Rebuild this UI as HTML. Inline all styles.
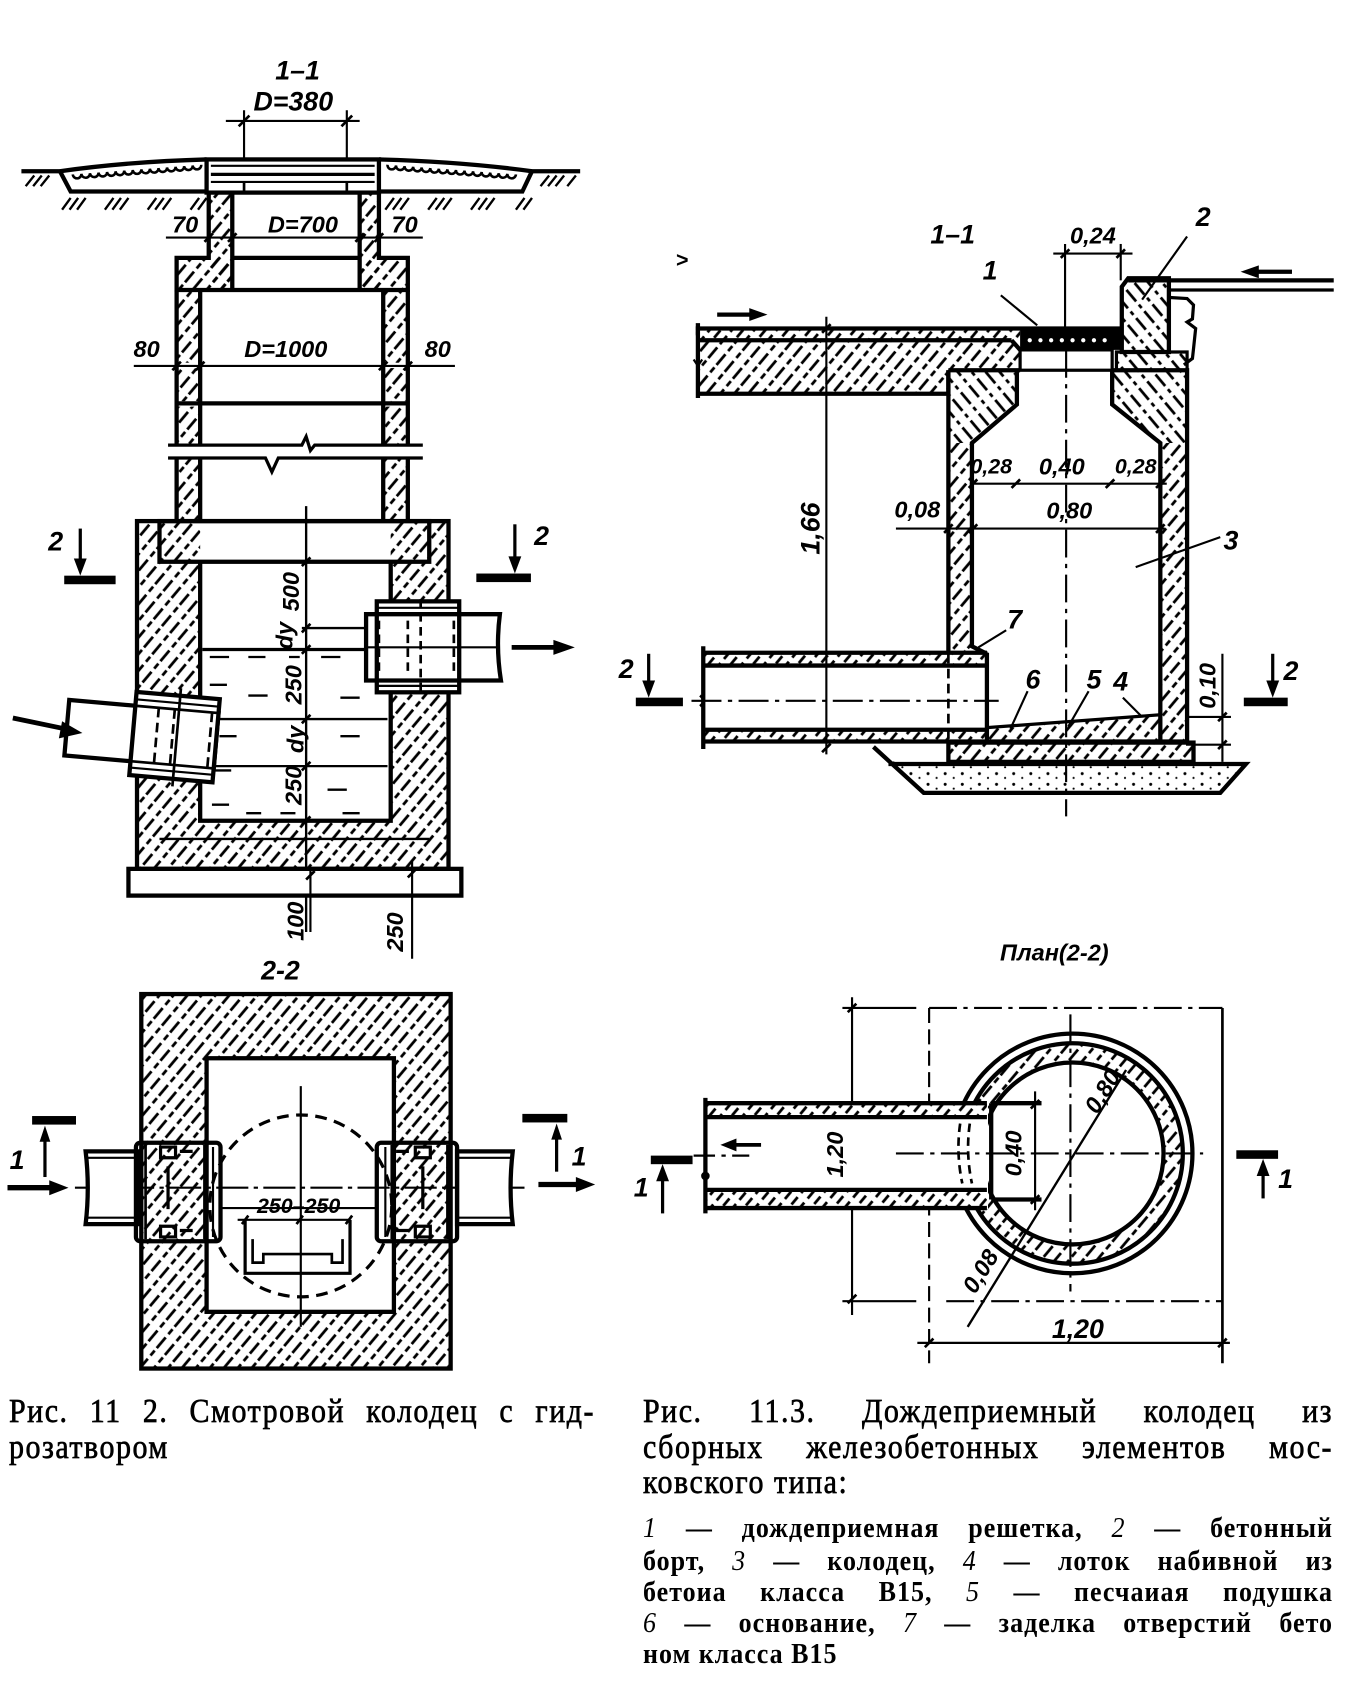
<!DOCTYPE html>
<html><head><meta charset="utf-8">
<style>
html,body{margin:0;padding:0;background:#fff;}
#w{position:relative;width:1353px;height:1681px;overflow:hidden;background:#fff;}
#w svg{position:absolute;left:0;top:0;}
.cap{position:absolute;font-family:"Liberation Serif","DejaVu Serif",serif;color:#000;white-space:nowrap;font-size:30px;line-height:30px;letter-spacing:1.5px;-webkit-text-stroke:0.6px #000;transform:scaleY(1.12);transform-origin:0 0;}
.leg{position:absolute;font-family:"Liberation Serif","DejaVu Serif",serif;color:#000;white-space:nowrap;font-size:26px;line-height:26px;letter-spacing:1px;font-weight:bold;transform:scaleY(1.1);transform-origin:0 0;}
.j{text-align:justify;text-align-last:justify;white-space:normal;}
.leg i{font-weight:normal;}
</style></head><body><div id="w">
<svg width="1353" height="1681" viewBox="0 0 1264 1571" preserveAspectRatio="none" xmlns="http://www.w3.org/2000/svg">
<defs>
<pattern id="h" width="10" height="26" patternUnits="userSpaceOnUse" patternTransform="rotate(40)">
<line x1="2" y1="0" x2="2" y2="26" stroke="#000" stroke-width="2.6" stroke-dasharray="13 3 6 4"/>
</pattern>
<pattern id="hb" width="10" height="26" patternUnits="userSpaceOnUse" patternTransform="rotate(-40)">
<line x1="2" y1="0" x2="2" y2="26" stroke="#000" stroke-width="2.6" stroke-dasharray="14 4 4 4"/>
</pattern>
<pattern id="hf" width="8" height="14" patternUnits="userSpaceOnUse" patternTransform="rotate(40)">
<line x1="2" y1="0" x2="2" y2="14" stroke="#000" stroke-width="2.6" stroke-dasharray="9 5"/>
</pattern>
<pattern id="dots" width="16" height="10" patternUnits="userSpaceOnUse">
<circle cx="3" cy="3" r="1.4" fill="#000"/><circle cx="11" cy="7" r="1" fill="#000"/>
</pattern>
<style>
.t{font-family:"Liberation Sans","DejaVu Sans",sans-serif;font-weight:bold;font-style:italic;font-size:22px;fill:#000;}
.tl{font-size:25px;}
.ts{font-size:20px;}
</style>
</defs>

<!-- ================= LEFT FIGURE 11.2 (section 1-1) ================= -->
<g class="t" text-anchor="middle" dominant-baseline="central">
<text x="278" y="66" class="t tl">1–1</text>
<text x="274" y="95" class="t tl">D=380</text>
<text x="173" y="210">70</text>
<text x="283" y="210">D=700</text>
<text x="378" y="210">70</text>
<text x="137" y="326">80</text>
<text x="267" y="326">D=1000</text>
<text x="409" y="326">80</text>
<text x="52" y="506" class="t tl">2</text>
<text x="506" y="501" class="t tl">2</text>
<text x="262" y="907" class="t tl">2-2</text>
<text transform="translate(272,553) rotate(-90)">500</text>
<text transform="translate(266,594) rotate(-90)">dу</text>
<text transform="translate(274,640) rotate(-90)">250</text>
<text transform="translate(276,691) rotate(-90)">dу</text>
<text transform="translate(274,734) rotate(-90)">250</text>
<text transform="translate(276,861) rotate(-90)">100</text>
<text transform="translate(369,871) rotate(-90)">250</text>
</g>

<g fill="none" stroke="#000" stroke-width="4">
<line x1="211" y1="113" x2="336" y2="113" stroke-width="2"/>
<line x1="228" y1="103" x2="228" y2="180" stroke-width="2"/>
<line x1="324" y1="103" x2="324" y2="180" stroke-width="2"/>
<line x1="223" y1="118" x2="233" y2="108" stroke-width="2.5"/>
<line x1="319" y1="118" x2="329" y2="108" stroke-width="2.5"/>
<line x1="20" y1="160" x2="58" y2="160"/>
<line x1="495" y1="160" x2="542" y2="160"/>
<path d="M56,160 Q120,151 193,149"/>
<path d="M354,149 Q430,151 497,160"/>
<path d="M56,160 L66,179 H193"/>
<path d="M354,179 H488 L497,160"/>
<path stroke-width="2.4" d="M68,163 a4,4 0 0 0 8,-0.6 a4,4 0 0 0 8,-0.6 a4,4 0 0 0 8,-0.6 a4,4 0 0 0 8,-0.6 a4,4 0 0 0 8,-0.6 a4,4 0 0 0 8,-0.6 a4,4 0 0 0 8,-0.6 a4,4 0 0 0 8,-0.6 a4,4 0 0 0 8,-0.6 a4,4 0 0 0 8,-0.6 a4,4 0 0 0 8,-0.6 a4,4 0 0 0 8,-0.6 a4,4 0 0 0 8,-0.6 a4,4 0 0 0 8,-0.6 a4,4 0 0 0 8,-0.6"/>
<path stroke-width="2.4" d="M362,154 a4,4 0 0 0 8,0.6 a4,4 0 0 0 8,0.6 a4,4 0 0 0 8,0.6 a4,4 0 0 0 8,0.6 a4,4 0 0 0 8,0.6 a4,4 0 0 0 8,0.6 a4,4 0 0 0 8,0.6 a4,4 0 0 0 8,0.6 a4,4 0 0 0 8,0.6 a4,4 0 0 0 8,0.6 a4,4 0 0 0 8,0.6 a4,4 0 0 0 8,0.6 a4,4 0 0 0 8,0.6 a4,4 0 0 0 8,0.6 a4,4 0 0 0 8,0.6"/>
<g stroke-width="2.2">
<path d="M24,174 l8,-10 M31,174 l8,-10 M38,174 l8,-10"/>
<path d="M58,196 l8,-11 M65,196 l8,-11 M72,196 l8,-11"/>
<path d="M98,196 l8,-11 M105,196 l8,-11 M112,196 l8,-11"/>
<path d="M138,196 l8,-11 M145,196 l8,-11 M152,196 l8,-11"/>
<path d="M178,196 l8,-11 M185,196 l8,-11"/>
<path d="M360,196 l8,-11 M367,196 l8,-11 M374,196 l8,-11"/>
<path d="M400,196 l8,-11 M407,196 l8,-11 M414,196 l8,-11"/>
<path d="M440,196 l8,-11 M447,196 l8,-11 M454,196 l8,-11"/>
<path d="M482,196 l8,-11 M489,196 l8,-11"/>
<path d="M505,174 l8,-10 M512,174 l8,-10 M519,174 l8,-10 M530,174 l8,-10"/>
</g>
</g>

<rect x="193" y="149" width="161" height="31" fill="#fff" stroke="#000" stroke-width="4"/>
<g stroke="#000" fill="none">
<line x1="197" y1="155" x2="350" y2="155" stroke-width="2"/>
<line x1="197" y1="163" x2="350" y2="163" stroke-width="3"/>
<line x1="197" y1="170" x2="350" y2="170" stroke-width="2"/>
<line x1="228" y1="170" x2="228" y2="180" stroke-width="2.5"/>
<line x1="324" y1="170" x2="324" y2="180" stroke-width="2.5"/>
</g>

<rect x="195" y="180" width="22" height="91" fill="url(#h)"/>
<rect x="336" y="180" width="18" height="91" fill="url(#h)"/>
<rect x="165" y="241" width="52" height="30" fill="url(#h)"/>
<rect x="336" y="241" width="45" height="30" fill="url(#h)"/>
<g fill="none" stroke="#000" stroke-width="4">
<path d="M195,180 V241 H165 V271 H381 V241 H354 V180"/>
<line x1="217" y1="180" x2="217" y2="271"/>
<line x1="336" y1="180" x2="336" y2="271"/>
<line x1="217" y1="241" x2="336" y2="241"/>
<line x1="155" y1="222" x2="395" y2="222" stroke-width="2"/>
<path d="M191,226 l8,-8 M213,226 l8,-8 M332,226 l8,-8 M350,226 l8,-8" stroke-width="2.5"/>
</g>

<rect x="165" y="271" width="22" height="216" fill="url(#h)"/>
<rect x="358" y="271" width="23" height="216" fill="url(#h)"/>
<rect x="160" y="339" width="228" height="5" fill="#fff"/>
<rect x="160" y="375" width="228" height="5" fill="#fff"/>
<rect x="150" y="417" width="250" height="10" fill="#fff"/>
<g fill="none" stroke="#000" stroke-width="4">
<line x1="165" y1="271" x2="165" y2="417"/>
<line x1="187" y1="271" x2="187" y2="417"/>
<line x1="358" y1="271" x2="358" y2="417"/>
<line x1="381" y1="271" x2="381" y2="417"/>
<line x1="165" y1="427" x2="165" y2="487"/>
<line x1="187" y1="427" x2="187" y2="487"/>
<line x1="358" y1="427" x2="358" y2="487"/>
<line x1="381" y1="427" x2="381" y2="487"/>
<line x1="125" y1="342" x2="425" y2="342" stroke-width="2"/>
<line x1="165" y1="377" x2="381" y2="377"/>
<path d="M161,346 l8,-8 M183,346 l8,-8 M354,346 l8,-8 M377,346 l8,-8" stroke-width="2.5"/>
<path d="M157,416 H282 L286,408 L290,421 L294,416 H395" stroke-width="3"/>
<path d="M157,428 H248 L254,441 L260,428 H395" stroke-width="3"/>
</g>

<path d="M128,487 H419 V812 H128 Z M187,487 V767 H365 V487 Z" fill="url(#h)" fill-rule="evenodd"/>
<g fill="none" stroke="#000" stroke-width="4">
<rect x="128" y="487" width="291" height="325"/>
<rect x="149" y="487" width="252" height="38"/>
<path d="M187,525 V767 H365 V525"/>
<line x1="149" y1="784" x2="401" y2="784" stroke-width="2.2"/>
</g>
<g stroke="#000" stroke-width="2.2" fill="none">
<line x1="189" y1="607" x2="342" y2="607" stroke-width="3"/>
<path d="M196,614 h18 M232,614 h16 M270,614 h10 M300,614 h18 M196,640 h16 M232,650 h18 M318,652 h18 M205,688 h16 M318,688 h18 M200,720 h16 M306,738 h18 M198,752 h16 M230,760 h14 M262,760 h14 M320,760 h16"/>
<line x1="282" y1="587" x2="342" y2="587"/>
<line x1="189" y1="672" x2="362" y2="672"/>
<line x1="189" y1="716" x2="362" y2="716"/>
<line x1="286" y1="473" x2="286" y2="871"/>
<path d="M282,529 l8,-8 M282,591 l8,-8 M282,611 l8,-8 M282,676 l8,-8 M282,720 l8,-8 M282,771 l8,-8" stroke-width="2.5"/>
</g>
<rect x="120" y="812" width="311" height="25" fill="#fff" stroke="#000" stroke-width="4"/>
<g stroke="#000" stroke-width="2" fill="none">
<line x1="290" y1="812" x2="290" y2="871"/>
<line x1="385" y1="805" x2="385" y2="896"/>
<path d="M286,822 l8,-8 M381,820 l8,-8" stroke-width="2.5"/>
</g>

<g transform="rotate(5 130 688)">
<rect x="62" y="660" width="140" height="52" fill="#fff" stroke="#000" stroke-width="4"/>
<rect x="124" y="647" width="78" height="78" fill="#fff" stroke="#000" stroke-width="4"/>
<g stroke="#000" fill="none">
<line x1="124" y1="654" x2="202" y2="654" stroke-width="2"/>
<line x1="124" y1="718" x2="202" y2="718" stroke-width="2"/>
<line x1="124" y1="660" x2="202" y2="660" stroke-width="2.5"/>
<line x1="124" y1="712" x2="202" y2="712" stroke-width="2.5"/>
<line x1="146" y1="660" x2="146" y2="712" stroke-width="2.5" stroke-dasharray="9 5"/>
<line x1="161" y1="660" x2="161" y2="712" stroke-width="2.5" stroke-dasharray="9 5"/>
<line x1="196" y1="660" x2="196" y2="712" stroke-width="2.5" stroke-dasharray="9 5"/>
<line x1="165" y1="640" x2="165" y2="732" stroke-width="2.5"/>
</g>
</g>
<rect x="342" y="574" width="125" height="62" fill="#fff"/>
<rect x="352" y="562" width="77" height="85" fill="#fff" stroke="#000" stroke-width="4"/>
<g stroke="#000" fill="none">
<path d="M342,574 H467 Q463,605 468,636 H342 Z" stroke-width="4"/>
<line x1="352" y1="568" x2="429" y2="568" stroke-width="2"/>
<line x1="352" y1="641" x2="429" y2="641" stroke-width="2"/>
<line x1="354" y1="580" x2="354" y2="632" stroke-width="2.5" stroke-dasharray="8 5"/>
<line x1="381" y1="580" x2="381" y2="632" stroke-width="2.5" stroke-dasharray="8 5"/>
<line x1="393" y1="560" x2="393" y2="650" stroke-width="2.5" stroke-dasharray="8 5"/>
<line x1="424" y1="580" x2="424" y2="632" stroke-width="2.5" stroke-dasharray="8 5"/>
<line x1="342" y1="605" x2="467" y2="605" stroke-width="2"/>
</g>
<g stroke="#000" stroke-width="4.5" fill="#000">
<line x1="12" y1="671" x2="60" y2="681"/>
<polygon points="77,685 58,674 55,690" stroke="none"/>
<line x1="478" y1="605" x2="520" y2="605"/>
<polygon points="537,605 517,598 517,612" stroke="none"/>
<line x1="75" y1="494" x2="75" y2="526" stroke-width="3"/>
<polygon points="75,538 69,522 81,522" stroke="none"/>
<rect x="60" y="538" width="48" height="8" stroke="none"/>
<line x1="481" y1="490" x2="481" y2="524" stroke-width="3"/>
<polygon points="481,536 475,520 487,520" stroke="none"/>
<rect x="445" y="536" width="51" height="8" stroke="none"/>
</g>

<!-- ================= SECTION 2-2 ================= -->
<path d="M132,929 H421 V1279 H132 Z M193,989 V1226 H368 V989 Z" fill="url(#h)" fill-rule="evenodd"/>
<g fill="none" stroke="#000" stroke-width="4">
<rect x="132" y="929" width="289" height="350"/>
<rect x="193" y="989" width="175" height="237"/>
</g>
<circle cx="281" cy="1127" r="85" fill="none" stroke="#000" stroke-width="3" stroke-dasharray="11 7"/>
<g stroke="#000" fill="none" stroke-width="2">
<line x1="281" y1="1015" x2="281" y2="1240"/>
<line x1="70" y1="1110" x2="490" y2="1110" stroke-dasharray="30 5 4 5"/>
<line x1="206" y1="1129" x2="352" y2="1129"/>
</g>
<path d="M80,1076 H129 V1144 H80 Q84,1110 80,1076 Z" fill="#fff" stroke="#000" stroke-width="4"/>
<path d="M427,1076 H479 Q475,1110 479,1144 H427 Z" fill="#fff" stroke="#000" stroke-width="4"/>
<g stroke="#000" fill="none">
<line x1="80" y1="1082" x2="129" y2="1082" stroke-width="2"/>
<line x1="80" y1="1138" x2="129" y2="1138" stroke-width="2"/>
<line x1="427" y1="1082" x2="479" y2="1082" stroke-width="2"/>
<line x1="427" y1="1138" x2="479" y2="1138" stroke-width="2"/>
<rect x="127" y="1068" width="79" height="92" rx="4" stroke-width="4"/>
<line x1="136" y1="1070" x2="136" y2="1158" stroke-width="2.5"/>
<line x1="191" y1="1070" x2="191" y2="1158" stroke-width="2.5"/>
<line x1="199" y1="1072" x2="199" y2="1156" stroke-width="2"/>
<rect x="352" y="1068" width="75" height="92" rx="4" stroke-width="4"/>
<line x1="360" y1="1072" x2="360" y2="1156" stroke-width="2"/>
<line x1="366" y1="1070" x2="366" y2="1158" stroke-width="2.5"/>
<line x1="418" y1="1070" x2="418" y2="1158" stroke-width="2.5"/>
<path d="M150,1072 h14 v10 h-14 z M150,1146 h14 v10 h-14 z M168,1076 h12 M168,1150 h12 M157,1090 v40" stroke-width="3"/>
<path d="M388,1072 h14 v10 h-14 z M388,1146 h14 v10 h-14 z M370,1076 h12 M370,1150 h12 M395,1090 v40" stroke-width="3"/>
<line x1="222" y1="1140" x2="327" y2="1140" stroke-width="2"/>
<path d="M226,1144 l6,-8 M277,1144 l6,-8 M323,1144 l6,-8" stroke-width="2.5"/>
<path d="M229,1140 V1190 H327 V1140" stroke-width="3"/>
<path d="M236,1158 V1180 H246 V1172 H310 V1180 H320 V1158" stroke-width="2.5"/>
</g>
<text x="279" y="1127" class="t ts" text-anchor="middle" dominant-baseline="central">250–250</text>
<g stroke="#000" stroke-width="5" fill="#000">
<line x1="7" y1="1110" x2="48" y2="1110"/>
<polygon points="64,1110 46,1103 46,1117" stroke="none"/>
<line x1="503" y1="1107" x2="540" y2="1107"/>
<polygon points="556,1107 538,1100 538,1114" stroke="none"/>
<line x1="42" y1="1100" x2="42" y2="1062" stroke-width="3"/>
<polygon points="42,1052 37,1067 47,1067" stroke="none"/>
<rect x="30" y="1043" width="41" height="8" stroke="none"/>
<line x1="520" y1="1095" x2="520" y2="1060" stroke-width="3"/>
<polygon points="520,1050 515,1065 525,1065" stroke="none"/>
<rect x="488" y="1041" width="42" height="8" stroke="none"/>
</g>
<text x="16" y="1084" class="t tl" text-anchor="middle" dominant-baseline="central">1</text>
<text x="541" y="1081" class="t tl" text-anchor="middle" dominant-baseline="central">1</text>

<!-- ================= RIGHT FIGURE 11.3 ================= -->
<text x="637" y="243" class="t ts" text-anchor="middle" dominant-baseline="central">&gt;</text>
<path d="M650,307 H953 V318 H650 Z" fill="url(#hf)"/>
<path d="M653,318 H945 L953,327 V346 H886 V368 H653 Z" fill="url(#h)"/>
<g fill="none" stroke="#000" stroke-width="4">
<line x1="650" y1="307" x2="1048" y2="307"/>
<line x1="653" y1="318" x2="945" y2="318"/>
<path d="M945,318 L953,327"/>
<path d="M886,346 V368 H653"/>
<line x1="652" y1="302" x2="652" y2="372"/>
<path d="M648,336 l4,6 l4,-6" stroke-width="2"/>
</g>
<rect x="953" y="307" width="94" height="20" fill="#000"/>
<g fill="#fff">
<circle cx="962" cy="318" r="2"/><circle cx="972" cy="318" r="2"/><circle cx="982" cy="318" r="2"/><circle cx="992" cy="318" r="2"/><circle cx="1002" cy="318" r="2"/><circle cx="1012" cy="318" r="2"/><circle cx="1022" cy="318" r="2"/><circle cx="1032" cy="318" r="2"/>
</g>
<rect x="953" y="327" width="86" height="19" fill="#fff" stroke="#000" stroke-width="3"/>
<path d="M1048,268 L1054,260 H1092 V329 H1048 Z" fill="url(#hb)" stroke="#000" stroke-width="4"/>
<path d="M1043,329 H1109 V346 H1043 Z" fill="url(#hb)" stroke="#000" stroke-width="3"/>
<g fill="none" stroke="#000" stroke-width="4">
<line x1="1054" y1="262" x2="1246" y2="262"/>
<line x1="1093" y1="271" x2="1246" y2="271" stroke-width="3"/>
<path d="M1093,278 L1109,279 L1115,285 L1114,298 L1109,301 L1117,307 L1115,326 L1114,335 L1106,341" stroke-width="3"/>
</g>
<path d="M886,346 H950 V378 L908,414 H886 Z" fill="url(#hb)"/>
<path d="M886,414 H908 V604 L920,611 H886 Z" fill="url(#h)"/>
<path d="M1039,346 H1109 V414 H1084 L1039,378 Z" fill="url(#hb)"/>
<path d="M1084,414 H1108 V693 H1084 Z" fill="url(#h)"/>
<g fill="none" stroke="#000" stroke-width="4">
<path d="M886,346 V611"/>
<path d="M886,346 H953"/>
<path d="M950,346 V378 L908,414 V604 L922,611"/>
<path d="M1039,346 H1109 V693"/>
<path d="M1039,346 V378 L1084,414 V693"/>
</g>
<g fill="none" stroke="#000" stroke-width="2">
<line x1="984" y1="237" x2="1058" y2="237"/>
<line x1="995" y1="228" x2="995" y2="307"/>
<line x1="1047" y1="228" x2="1047" y2="262"/>
<path d="M991,241 l8,-8 M1043,241 l8,-8" stroke-width="2.5"/>
<line x1="906" y1="452" x2="1090" y2="452"/>
<path d="M905,456 l8,-8 M945,456 l8,-8 M1033,456 l8,-8 M1080,456 l8,-8" stroke-width="2.5"/>
<line x1="837" y1="494" x2="1088" y2="494"/>
<path d="M882,498 l8,-8 M905,498 l8,-8 M1080,498 l8,-8" stroke-width="2.5"/>
<line x1="772" y1="296" x2="772" y2="705"/>
<path d="M768,311 l8,-8 M768,703 l8,-8" stroke-width="2.5"/>
<line x1="996" y1="327" x2="996" y2="763" stroke-dasharray="26 6 4 6"/>
<line x1="1109" y1="221" x2="1067" y2="280"/>
<line x1="935" y1="276" x2="969" y2="304"/>
<line x1="1140" y1="502" x2="1061" y2="530"/>
<line x1="940" y1="589" x2="914" y2="605"/>
<line x1="960" y1="646" x2="944" y2="681"/>
<line x1="1017" y1="646" x2="998" y2="679"/>
<line x1="1049" y1="652" x2="1066" y2="669"/>
<line x1="1142" y1="611" x2="1142" y2="712"/>
<line x1="1108" y1="670" x2="1150" y2="670"/>
<line x1="1108" y1="696" x2="1150" y2="696"/>
<path d="M1138,674 l8,-8 M1138,700 l8,-8" stroke-width="2.5"/>
</g>
<rect x="657" y="611" width="265" height="11" fill="url(#hf)"/>
<rect x="657" y="682" width="265" height="11" fill="url(#hf)"/>
<g fill="none" stroke="#000" stroke-width="4">
<line x1="657" y1="610" x2="922" y2="610"/>
<line x1="657" y1="622" x2="922" y2="622"/>
<line x1="657" y1="682" x2="922" y2="682"/>
<line x1="657" y1="693" x2="1109" y2="693"/>
<line x1="657" y1="604" x2="657" y2="700"/>
<line x1="922" y1="610" x2="922" y2="693"/>
<line x1="646" y1="655" x2="933" y2="655" stroke-width="2" stroke-dasharray="28 6 4 6"/>
<line x1="886" y1="611" x2="886" y2="712" stroke-width="2.5" stroke-dasharray="9 5"/>
<path d="M654,650 q6,5 0,10" stroke-width="2.5"/>
</g>
<path d="M922,680 L1084,668 V693 H922 Z" fill="url(#h)" stroke="#000" stroke-width="3"/>
<rect x="886" y="694" width="229" height="18" fill="url(#h)" stroke="#000" stroke-width="4"/>
<path d="M832,708 L863,741 H1140 L1164,715 L1164,713 H832 Z" fill="url(#dots)"/>
<g fill="none" stroke="#000" stroke-width="4">
<path d="M816,698 L863,741 H1140 L1164,714 H830"/>
</g>
<g stroke="#000" stroke-width="4" fill="#000">
<line x1="670" y1="294" x2="703" y2="294"/>
<polygon points="717,294 700,288 700,300" stroke="none"/>
<line x1="1207" y1="254" x2="1173" y2="254"/>
<polygon points="1159,254 1176,248 1176,260" stroke="none"/>
<line x1="606" y1="611" x2="606" y2="640" stroke-width="3"/>
<polygon points="606,652 600,636 612,636" stroke="none"/>
<rect x="594" y="652" width="44" height="8" stroke="none"/>
<line x1="1189" y1="611" x2="1189" y2="640" stroke-width="3"/>
<polygon points="1189,652 1183,636 1195,636" stroke="none"/>
<rect x="1162" y="652" width="41" height="8" stroke="none"/>
</g>
<g class="t" text-anchor="middle" dominant-baseline="central">
<text x="890" y="219" class="t tl">1–1</text>
<text x="1021" y="220">0,24</text>
<text x="1124" y="203" class="t tl">2</text>
<text x="925" y="253" class="t tl">1</text>
<text x="926" y="436" class="t ts">0,28</text>
<text x="992" y="436">0,40</text>
<text x="1061" y="436" class="t ts">0,28</text>
<text x="857" y="476">0,08</text>
<text x="999" y="477">0,80</text>
<text x="1150" y="505" class="t tl">3</text>
<text x="948" y="579" class="t tl">7</text>
<text x="965" y="635" class="t tl">6</text>
<text x="1022" y="635" class="t tl">5</text>
<text x="1047" y="637" class="t tl">4</text>
<text transform="translate(757,494) rotate(-90)" class="t tl">1,66</text>
<text transform="translate(1128,641) rotate(-90)">0,10</text>
<text x="585" y="625" class="t tl">2</text>
<text x="1206" y="627" class="t tl">2</text>
</g>

<!-- ================= PLAN 2-2 ================= -->
<text x="985" y="890" class="t" text-anchor="middle" dominant-baseline="central">План(2-2)</text>
<g fill="none" stroke="#000" stroke-width="2">
<line x1="787" y1="942" x2="856" y2="942"/>
<line x1="868" y1="942" x2="1142" y2="942" stroke-dasharray="26 6 4 6"/>
<line x1="787" y1="1216" x2="856" y2="1216"/>
<line x1="884" y1="1216" x2="1142" y2="1216" stroke-dasharray="26 6 4 6"/>
<line x1="1142" y1="942" x2="1142" y2="1274" stroke-width="2.5"/>
<line x1="868" y1="942" x2="868" y2="1274" stroke-dasharray="14 6"/>
<line x1="796" y1="932" x2="796" y2="1229"/>
<path d="M792,946 l8,-8 M792,1218 l8,-8" stroke-width="2.5"/>
<line x1="857" y1="1255" x2="1149" y2="1255"/>
<path d="M864,1259 l8,-8 M1138,1259 l8,-8" stroke-width="2.5"/>
</g>
<circle cx="1002" cy="1078" r="94" fill="none" stroke="url(#h)" stroke-width="18"/>
<g fill="none" stroke="#000">
<circle cx="1002" cy="1078" r="112" stroke-width="4"/>
<circle cx="1002" cy="1078" r="103" stroke-width="4"/>
<circle cx="1002" cy="1078" r="85" stroke-width="4"/>
</g>
<rect x="659" y="1030" width="264" height="100" fill="#fff"/>
<rect x="659" y="1032" width="263" height="12" fill="url(#hf)"/>
<rect x="659" y="1113" width="263" height="15" fill="url(#hf)"/>
<g fill="none" stroke="#000" stroke-width="4">
<line x1="659" y1="1031" x2="922" y2="1031"/>
<line x1="659" y1="1044" x2="922" y2="1044"/>
<line x1="659" y1="1112" x2="922" y2="1112"/>
<line x1="659" y1="1129" x2="922" y2="1129"/>
<line x1="659" y1="1026" x2="659" y2="1134"/>
<path d="M926,1031 H973 M926,1121 H973"/>
<line x1="926" y1="1031" x2="926" y2="1121"/>
<path d="M897,1050 Q893,1078 899,1106" stroke-width="2.5" stroke-dasharray="8 5"/>
<path d="M906,1050 Q902,1078 908,1106" stroke-width="2.5" stroke-dasharray="8 5"/>
<line x1="837" y1="1078" x2="1124" y2="1078" stroke-width="2" stroke-dasharray="26 6 4 6"/>
<line x1="648" y1="1080" x2="700" y2="1080" stroke-width="2" stroke-dasharray="20 6 4 6"/>
<line x1="1000" y1="948" x2="1000" y2="1207" stroke-width="2" stroke-dasharray="26 6 4 6"/>
<line x1="967" y1="1020" x2="967" y2="1131" stroke-width="2"/>
<path d="M963,1036 l8,-8 M963,1125 l8,-8" stroke-width="2.5"/>
<line x1="1052" y1="1000" x2="904" y2="1240" stroke-width="2.2"/>
</g>
<circle cx="659" cy="1099" r="4" fill="#000"/>
<g stroke="#000" stroke-width="3.5" fill="#000">
<line x1="711" y1="1070" x2="686" y2="1070"/>
<polygon points="673,1070 688,1064 688,1076" stroke="none"/>
<line x1="619" y1="1134" x2="619" y2="1100" stroke-width="3"/>
<polygon points="619,1088 613,1104 625,1104" stroke="none"/>
<rect x="608" y="1080" width="39" height="8" stroke="none"/>
<line x1="1180" y1="1120" x2="1180" y2="1095" stroke-width="3"/>
<polygon points="1180,1083 1174,1099 1186,1099" stroke="none"/>
<rect x="1155" y="1075" width="39" height="8" stroke="none"/>
</g>
<g class="t" text-anchor="middle" dominant-baseline="central">
<text transform="translate(780,1079) rotate(-90)">1,20</text>
<text transform="translate(947,1078) rotate(-90)">0,40</text>
<text transform="translate(1030,1020) rotate(-58)">0,80</text>
<text transform="translate(916,1188) rotate(-58)">0,08</text>
<text x="1007" y="1242" class="t tl">1,20</text>
<text x="599" y="1110" class="t tl">1</text>
<text x="1201" y="1102" class="t tl">1</text>
</g>
</svg>

<div class="cap j" style="left:9px;top:1395px;width:586px;">Рис. 11 2. Смотровой колодец с гид-</div>
<div class="cap" style="left:9px;top:1431px;">розатвором</div>
<div class="cap j" style="left:643px;top:1395px;width:690px;">Рис. 11.3. Дождеприемный колодец из</div>
<div class="cap j" style="left:643px;top:1431px;width:690px;">сборных железобетонных элементов мос-</div>
<div class="cap" style="left:643px;top:1466px;">ковского типа:</div>
<div class="leg j" style="left:643px;top:1514px;width:690px;"><i>1</i> — дождеприемная решетка, <i>2</i> — бетонный</div>
<div class="leg j" style="left:643px;top:1547px;width:690px;">борт, <i>3</i> — колодец, <i>4</i> — лоток набивной из</div>
<div class="leg j" style="left:643px;top:1578px;width:690px;">бетоиа класса B15, <i>5</i> — песчаиая подушка</div>
<div class="leg j" style="left:643px;top:1609px;width:690px;"><i>6</i> — основание, <i>7</i> — заделка отверстий бето</div>
<div class="leg" style="left:643px;top:1640px;">ном класса B15</div>
</div></body></html>
